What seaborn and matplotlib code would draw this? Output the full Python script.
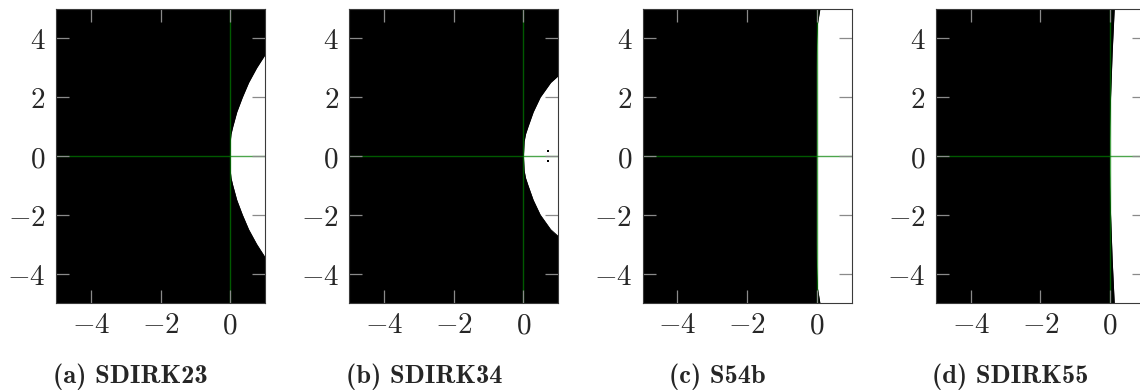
import numpy as np
import pandas as pd
import matplotlib
matplotlib.use("Agg")
import matplotlib.pyplot as plt
import seaborn as sns

# Stability regions of four implicit Runge-Kutta schemes in the complex plane.
# Black: |R(z)| <= 1 (stable); white: unstable. Edge given as Re(z) per Im(z).
im_levels = [-5, -4.5, -4, -3.5, -3, -2.5, -2, -1.5, -1, -0.75, -0.5, 0,
             0.5, 0.75, 1, 1.5, 2, 2.5, 3, 3.5, 4, 4.5, 5]

sdirk23_edge = [1.9, 1.6, 1.3, 1.03, 0.76, 0.53, 0.35, 0.19, 0.075, 0.025, 0.004, 0.0,
                0.004, 0.025, 0.075, 0.19, 0.35, 0.53, 0.76, 1.03, 1.3, 1.6, 1.9]
sdirk34_edge = [3.0, 2.6, 2.2, 1.8, 1.25, 0.78, 0.48, 0.28, 0.13, 0.06, 0.02, 0.0,
                0.02, 0.06, 0.13, 0.28, 0.48, 0.78, 1.25, 1.8, 2.2, 2.6, 3.0]
s54b_edge = [0.09, 0.02, 0.0, -0.012, -0.015, -0.015, -0.015, -0.015, -0.015, -0.015, -0.015, -0.015,
             -0.015, -0.015, -0.015, -0.015, -0.015, -0.015, -0.015, -0.012, 0.0, 0.02, 0.09]
sdirk55_edge = [0.12, 0.10, 0.08, 0.06, 0.045, 0.03, 0.015, 0.0, -0.01, -0.012, -0.015, -0.015,
                -0.015, -0.012, -0.01, 0.0, 0.015, 0.03, 0.045, 0.06, 0.08, 0.10, 0.12]

# isolated stable points inside the unstable lobe of SDIRK34
sdirk34_dots_re = [0.71, 0.71]
sdirk34_dots_im = [0.18, -0.18]

captions = ["(a) SDIRK23", "(b) SDIRK34", "(c) S54b", "(d) SDIRK55"]
edges = [sdirk23_edge, sdirk34_edge, s54b_edge, sdirk55_edge]

x_ticks = [-4, -2, 0]
x_tick_labels = [r"$-4$", r"$-2$", r"$0$"]
y_ticks = [-4, -2, 0, 2, 4]
y_tick_labels = [r"$-4$", r"$-2$", r"$0$", r"$2$", r"$4$"]

sns.set_theme(style="white")
plt.rcParams["mathtext.fontset"] = "cm"
plt.rcParams["font.family"] = ["DejaVu Serif"]

W, H = 1140, 392
fig = plt.figure(figsize=(W / 100, H / 100), dpi=100)
fig.patch.set_facecolor("white")

ax_w, ax_h = 209, 294
ax_bottom = 89
step = 293.3

for i, (cap, edge) in enumerate(zip(captions, edges)):
    left = 56 + i * step
    ax = fig.add_axes([left / W, ax_bottom / H, ax_w / W, ax_h / H])
    ax.set_facecolor("white")
    df = pd.DataFrame({"im": im_levels, "re": edge})

    ax.fill_betweenx(df["im"], -6, df["re"], color="black", lw=0, zorder=1)
    sns.lineplot(data=df, x="re", y="im", sort=False, orient="y",
                 color="black", lw=0.6, ax=ax, zorder=1.2)
    if i == 1:
        sns.scatterplot(x=sdirk34_dots_re, y=sdirk34_dots_im, ax=ax,
                        color="black", s=2, marker="s", linewidth=0, zorder=1.3)

    ax.axhline(0, color="green", alpha=0.7, lw=1.0, zorder=2)
    ax.axvline(0, color="green", alpha=0.7, lw=1.0, zorder=2)

    ax.set_xlim(-5, 1)
    ax.set_ylim(-5, 5)
    ax.set_xlabel("")
    ax.set_ylabel("")
    ax.set_xticks(x_ticks)
    ax.set_xticklabels(x_tick_labels)
    ax.set_yticks(y_ticks)
    ax.set_yticklabels(y_tick_labels)
    ax.set_axisbelow(False)
    ax.tick_params(axis="both", which="both", direction="in", length=9.5,
                   width=0.9, color="#8a8a8a", top=True, right=True,
                   bottom=True, left=True, labelsize=21)
    ax.tick_params(axis="x", pad=6)
    ax.tick_params(axis="y", pad=7.5)
    for sp in ax.spines.values():
        sp.set_color("#3a3a3a")
        sp.set_linewidth(0.8)
        sp.set_zorder(3)

    cx = (left + ax_w / 2 - 30) / W
    fig.text(cx, 0.022, cap, family="cmb10",
             ha="center", va="baseline", fontsize=19)

fig.savefig("out.png", dpi=100, facecolor="white")
